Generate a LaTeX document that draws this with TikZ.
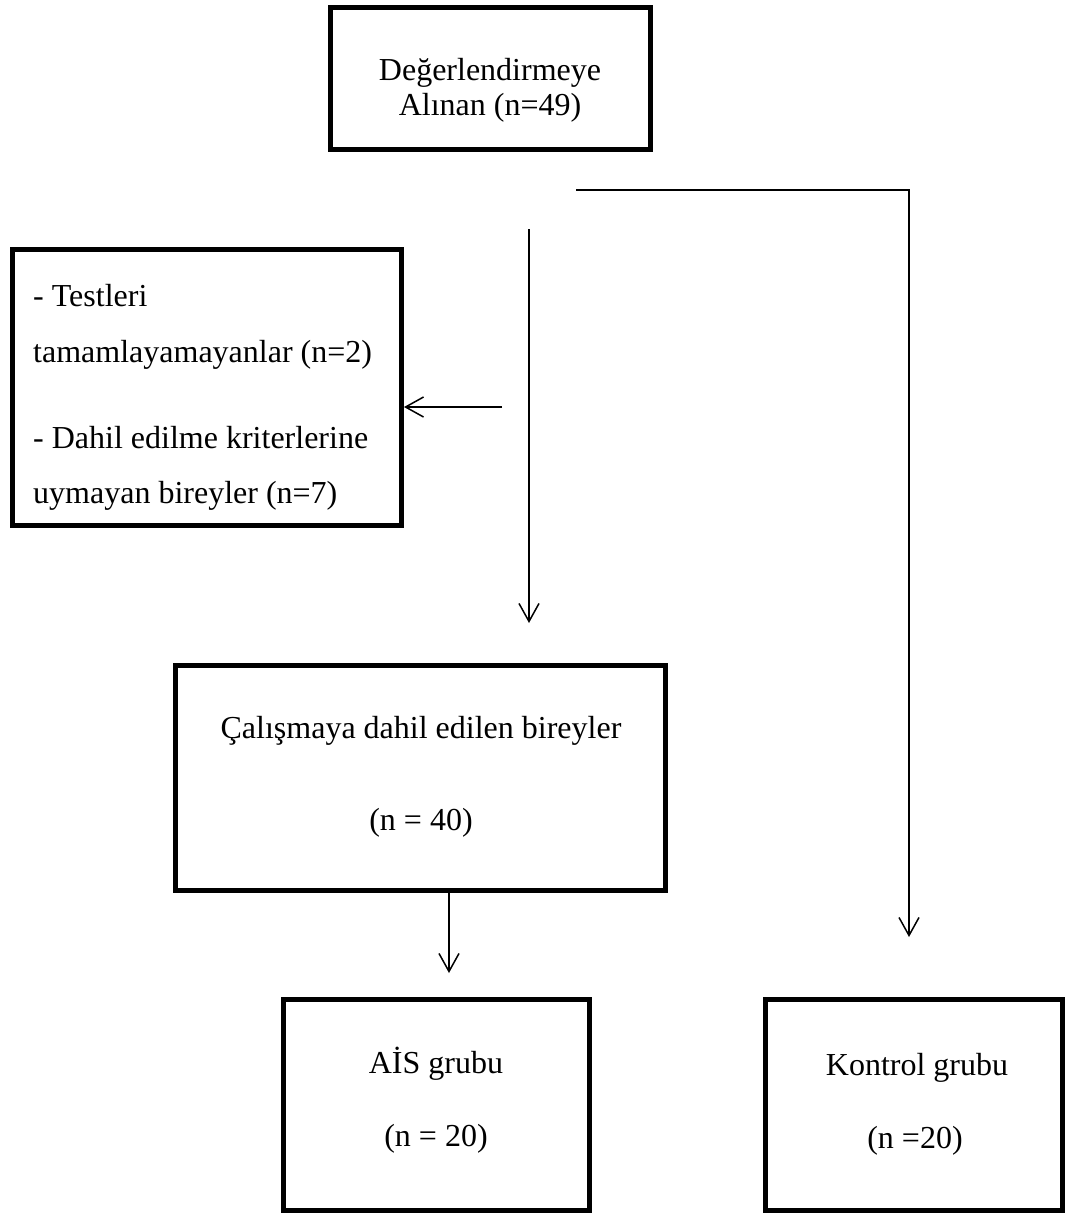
\documentclass[tikz,border=0pt]{standalone}
\usepackage{fontspec}
\setmainfont{Liberation Serif}
\usepackage{xcolor}
\usepackage{tikz}
\usetikzlibrary{arrows.meta}

\tikzset{
	box/.style={draw, line width=5pt, inner sep=0pt},
	txt/.style={inner sep=0pt, anchor=base, font=\fontsize{32pt}{38pt}\selectfont},
	ltxt/.style={txt, anchor=base west},
	arr/.style={line width=1.5pt, -{Straight Barb[length=18pt,width=20pt,line width=1.5pt]}}
}

\begin{document}
\begin{tikzpicture}[x=1pt,y=1pt,yscale=-1,xscale=1]
	\useasboundingbox (0,0) rectangle (1068,1216);
	
	%Shape: Rectangle
	\node (eval) [box, minimum width=320pt, minimum height=142pt] at (490.5,78.5) {};
	%Shape: Rectangle
	\node (excl) [box, minimum width=389pt, minimum height=276pt] at (207,387.5) {};
	%Shape: Rectangle
	\node (incl) [box, minimum width=490pt, minimum height=225pt] at (420.5,778) {};
	%Shape: Rectangle
	\node (ais) [box, minimum width=306pt, minimum height=211pt] at (436.5,1105) {};
	%Shape: Rectangle
	\node (ctrl) [box, minimum width=297pt, minimum height=211pt] at (914,1105) {};
	
	% free line ends
	\coordinate (splitA) at (576,190);
	\coordinate (splitB) at (909,190);
	\coordinate (ctrlin) at (909,937);
	\coordinate (mainA) at (529,229);
	\coordinate (mainB) at (529,623);
	\coordinate (exclA) at (502,407);
	\coordinate (aisin) at (449,973);
	
	%Straight Lines
	\draw [arr] (splitA) -- (splitB) -- (ctrlin);
	%Straight Lines
	\draw [arr] (mainA) -- (mainB);
	%Straight Lines
	\draw [arr] (exclA) -- (exclA -| excl.east);
	%Straight Lines
	\draw [arr] (incl.south -| aisin) -- (aisin);
	
	% Text Node
	\node (evalT1) [txt] at (490,80) {Değerlendirmeye};
	% Text Node
	\node (evalT2) [txt] at (490,115) {Alınan (n=49)};
	% Text Node
	\node (exclT1) [ltxt] at (33,306) {- Testleri};
	% Text Node
	\node (exclT2) [ltxt] at (33,362) {tamamlayamayanlar (n=2)};
	% Text Node
	\node (exclT3) [ltxt] at (33,448) {- Dahil edilme kriterlerine};
	% Text Node
	\node (exclT4) [ltxt] at (33,503) {uymayan bireyler (n=7)};
	% Text Node
	\node (inclT1) [txt] at (421,738) {Çalışmaya dahil edilen bireyler};
	% Text Node
	\node (inclT2) [txt] at (421,830) {(n = 40)};
	% Text Node
	\node (aisT1) [txt] at (436,1073) {AİS grubu};
	% Text Node
	\node (aisT2) [txt] at (436,1146) {(n = 20)};
	% Text Node
	\node (ctrlT1) [txt] at (917,1075) {Kontrol grubu};
	% Text Node
	\node (ctrlT2) [txt] at (915,1148) {(n =20)};
\end{tikzpicture}
\end{document}
